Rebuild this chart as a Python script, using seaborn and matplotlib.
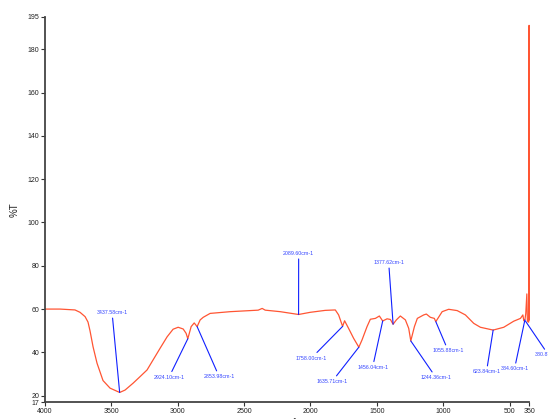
import numpy as np
import pandas as pd
import matplotlib
matplotlib.use("Agg")
import matplotlib.pyplot as plt
import seaborn as sns

# Spectrum (wavenumber cm-1, %T)
wavenumber = [4000, 3887, 3774, 3736, 3698, 3676, 3661, 3638, 3608, 3563, 3510,
              3437.58, 3397, 3336, 3284, 3231, 3186, 3133, 3080, 3035, 2997,
              2959, 2937, 2924.10, 2899, 2876, 2853.98, 2831, 2808, 2756, 2605,
              2454, 2394, 2364, 2341, 2228, 2089.60, 2002, 1889, 1813, 1788,
              1758.00, 1743, 1713, 1675, 1635.71, 1612, 1574, 1549, 1511, 1481,
              1456.04, 1423, 1398, 1377.62, 1353, 1323, 1285, 1260, 1244.36,
              1217, 1195, 1147, 1127, 1097, 1067, 1055.88, 1008, 959, 895, 833,
              770, 720, 623.84, 544, 469, 418, 400, 393, 384.60, 378, 370, 366,
              360, 356, 353, 351, 350]
transmittance = [60.0, 60.0, 59.6, 58.5, 56.5, 54.0, 50.0, 42.6, 35.0, 27.0, 23.5,
                 21.5, 22.6, 25.8, 28.8, 31.9, 36.5, 41.9, 47.2, 50.7, 51.6,
                 50.8, 48.8, 46.3, 51.9, 53.6, 51.9, 55.0, 56.2, 58.0, 58.8,
                 59.3, 59.5, 60.3, 59.5, 58.8, 57.5, 58.5, 59.4, 59.6, 57.3,
                 52.0, 54.6, 51.1, 46.5, 42.4, 45.7, 51.9, 55.3, 55.7, 56.8,
                 54.5, 55.5, 55.2, 53.0, 55.0, 56.8, 55.0, 51.1, 45.3,
                 51.9, 55.7, 57.3, 57.7, 56.2, 55.7, 54.2, 58.8, 59.9, 59.3, 57.3,
                 53.4, 51.6, 50.3, 51.6, 54.4, 55.7, 57.3, 54.6, 55.0, 58.0, 67.0, 54.5,
                 54.0, 54.0, 191.0, 55.0, 55.0]

# Peak labels
peak_positions = [3437.58, 2924.10, 2853.98, 2089.60, 1758.00, 1635.71, 1456.04,
                  1377.62, 1244.36, 1055.88, 623.84, 384.60, 380.87]
peak_labels = [f"{p:.2f}cm-1" for p in peak_positions]
label_x = [3495, 3066, 2688, 2089, 1994, 1838, 1532, 1411, 1054, 963, 674, 463, 207]
label_y = [58.5, 28.5, 28.8, 85.8, 37.3, 26.5, 33.1, 81.6, 28.3, 40.8, 31.1, 32.4, 38.8]

x_ticks = [4000, 3500, 3000, 2500, 2000, 1500, 1000, 500, 350]
y_ticks = [17, 20, 40, 60, 80, 100, 120, 140, 160, 180, 195]

sns.set_theme(style="ticks")
plt.rcParams["font.family"] = ["Liberation Sans", "DejaVu Sans"]

fig = plt.figure(figsize=(5.48, 4.19), dpi=100)
ax = fig.add_axes([45 / 548, (419 - 402.2) / 419, (529.5 - 45) / 548, (402.2 - 16.7) / 419])

df = pd.DataFrame({"wn": wavenumber, "T": transmittance})
sns.lineplot(data=df, x="wn", y="T", sort=False, estimator=None, ax=ax,
             color="#FF5533", linewidth=0.9)

ax.set_xlim(4000, 350)
ax.set_ylim(17, 195)
ax.set_xticks(x_ticks)
ax.set_xticklabels([str(t) for t in x_ticks])
ax.set_yticks(y_ticks)
ax.set_yticklabels([str(t) for t in y_ticks])
ax.tick_params(axis="both", labelsize=5, length=3, width=0.8, pad=1, colors="#333333",
               labelcolor="#222222")
for s in ["top", "right"]:
    ax.spines[s].set_visible(False)
for s in ["left", "bottom"]:
    ax.spines[s].set_linewidth(1.3)
    ax.spines[s].set_color("#444444")

ax.set_xlabel("cm-1", fontsize=7, labelpad=2, color="#222222")
ax.set_ylabel("%T", fontsize=7, labelpad=6, color="#222222")

wn_sorted = np.array(wavenumber)[::-1]
t_sorted = np.array(transmittance)[::-1]
for p, lab, lx, ly in zip(peak_positions, peak_labels, label_x, label_y):
    py = float(np.interp(p, wn_sorted, t_sorted))
    if p == 380.87:
        py = 54.5
    ax.annotate(lab, xy=(p, py), xytext=(lx, ly), ha="center", va="center",
                fontsize=3.8, color="#3344FF", annotation_clip=False,
                arrowprops=dict(arrowstyle="-", color="#1020FF", lw=0.8,
                                shrinkA=0, shrinkB=0))

fig.savefig("out.png", dpi=100)
